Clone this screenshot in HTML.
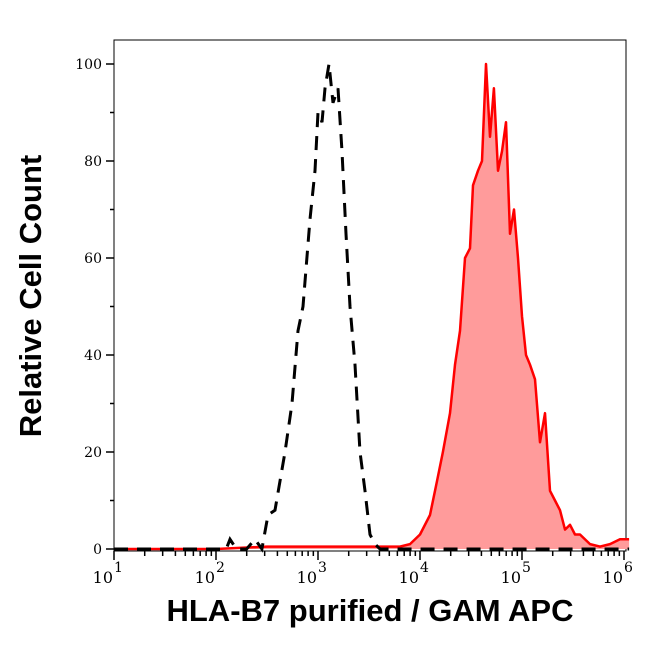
<!DOCTYPE html>
<html><head><meta charset="utf-8"><style>
body{margin:0;background:#fff;}
svg text{font-family:"DejaVu Serif","Liberation Serif",serif;}
</style></head><body>
<svg id="chart" width="646" height="641" xmlns="http://www.w3.org/2000/svg">
<g id="plot"></g>
<text x="370" y="621" text-anchor="middle" style="font-family:'Liberation Sans',sans-serif;font-weight:bold;font-size:31px">HLA-B7 purified / GAM APC</text>
<text transform="translate(41,296) rotate(-90)" text-anchor="middle" style="font-family:'Liberation Sans',sans-serif;font-weight:bold;font-size:31px">Relative Cell Count</text>
</svg>
<script>
const isoLog=[1.0,1.5,2.0,2.1,2.137,2.2,2.3,2.382,2.45,2.51,2.578,2.676,2.745,2.804,2.853,2.922,2.971,3.0,3.039,3.069,3.108,3.147,3.196,3.235,3.275,3.314,3.363,3.412,3.461,3.51,3.559,3.608,4.0,4.5,5.0,5.5,6.05];
const isoCount=[0,0,0,0,2,0,0,2,0,7,8,20,30,45,50,68,78,90,88,95,100,92,95,82,65,50,38,20,12,3,1,0,0,0,0,0,0];
const stainLog=[1.0,2.0,2.5,3.0,3.5,3.804,3.902,4.0,4.098,4.167,4.225,4.294,4.343,4.392,4.441,4.49,4.52,4.569,4.608,4.647,4.686,4.725,4.765,4.804,4.843,4.882,4.922,4.961,5.0,5.039,5.078,5.127,5.176,5.225,5.275,5.324,5.373,5.422,5.471,5.52,5.569,5.667,5.765,5.863,5.961,6.05];
const stainCount=[0,0,0.5,0.5,0.5,0.5,1,3,7,14,20,28,38,45,60,62,75,78,80,100,85,95,78,82,88,65,70,60,48,40,38,35,22,28,12,10,8,4,5,3,3,1,0.5,1,2,2];
const yTicks=[0,20,40,60,80,100];
const xTickExp=[1,2,3,4,5,6];

const L=114,R=626,T=40,B=551;
const xs=v=>114+(v-1)*102;
const ys=v=>549-4.85*v;
const NS="http://www.w3.org/2000/svg";
const g=document.getElementById('plot');
function mk(t,a){const e=document.createElementNS(NS,t);for(const k in a)e.setAttribute(k,a[k]);g.appendChild(e);return e;}

const frame=mk('rect',{x:L,y:T,width:R-L,height:B-T,fill:'none',stroke:'#000','stroke-width':1});



let d='M'+xs(stainLog[0])+','+ys(0);
stainLog.forEach((v,i)=>{d+=' L'+xs(v).toFixed(1)+','+ys(stainCount[i]).toFixed(1);});
d+=' L'+xs(stainLog[stainLog.length-1])+','+ys(0)+' Z';
const fill=mk('path',{d:d,fill:'#ff9b9b',stroke:'none'});


let dl='';
stainLog.forEach((v,i)=>{dl+=(i?' L':'M')+xs(v).toFixed(1)+','+ys(stainCount[i]).toFixed(1);});
const line=mk('path',{d:dl,fill:'none',stroke:'#ff0000','stroke-width':2.5,'stroke-linejoin':'round'});



let di='';
isoLog.forEach((v,i)=>{di+=(i?' L':'M')+xs(v).toFixed(1)+','+ys(isoCount[i]).toFixed(1);});
const iso=mk('path',{d:di,fill:'none',stroke:'#000','stroke-width':3,'stroke-dasharray':'14,9'});



for(let v=0;v<=100;v+=10){
  const major=v%20===0;
  const t=mk('line',{x1:L-(major?8:4),x2:L,y1:ys(v),y2:ys(v),stroke:'#000','stroke-width':1.5});
  
  
}
yTicks.forEach(v=>{
  const t=mk('text',{x:L-12,y:ys(v)+5,'text-anchor':'end','font-size':14});
  t.textContent=v;
  
  
});
for(let e=1;e<=6;e++){
  for(let m=1;m<10;m++){
    const lv=e+Math.log10(m);
    if(lv>6.02)break;
    const x=xs(lv);
    const t=mk('line',{x1:x,x2:x,y1:B,y2:B+(m===1?9:5),stroke:'#000','stroke-width':1.5});
    
    
  }
}
xTickExp.forEach(e=>{
  const t=mk('text',{x:xs(e)-1,y:B+32,'text-anchor':'end','font-size':16});
  t.textContent='10';
  
  
  const s=mk('text',{x:xs(e)+0,y:B+21,'text-anchor':'start','font-size':14});
  s.textContent=e;
  
  
});
</script>
</body></html>
